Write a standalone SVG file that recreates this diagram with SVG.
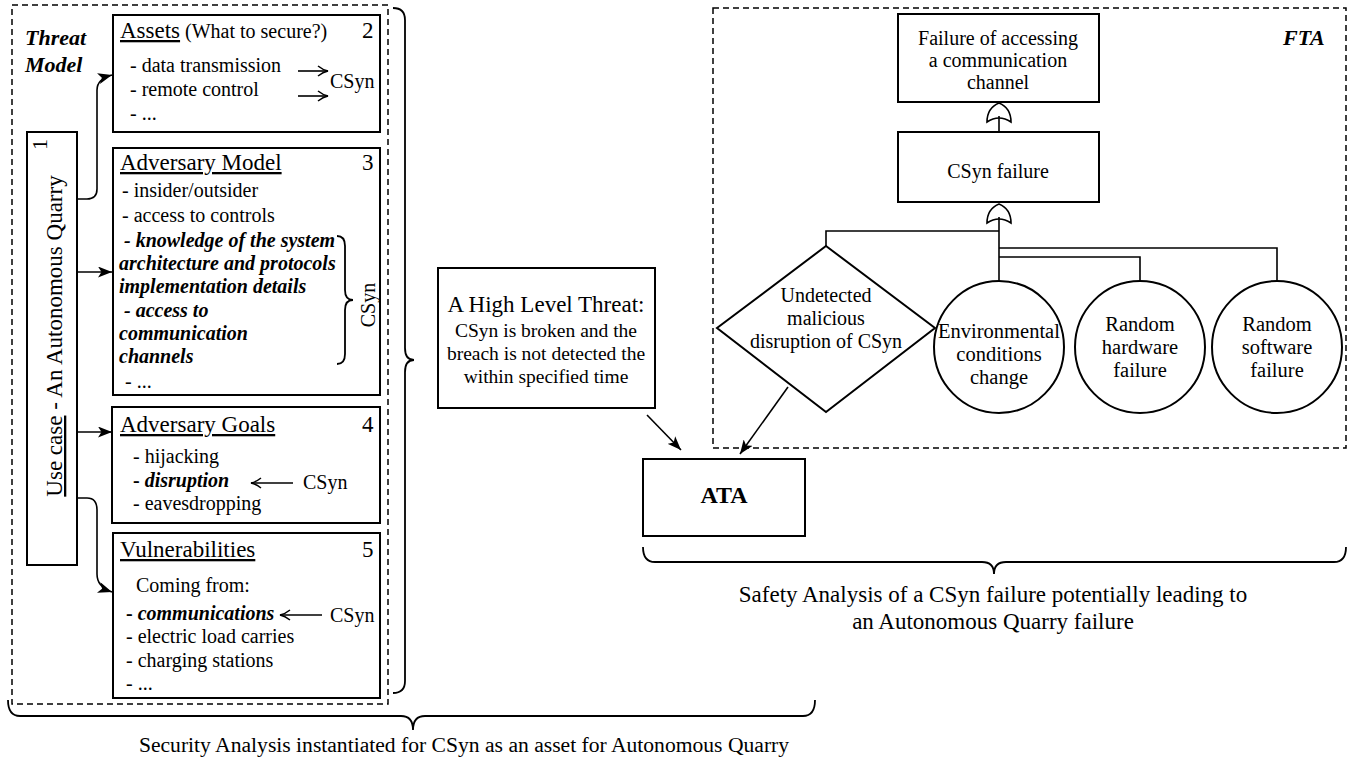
<svg xmlns="http://www.w3.org/2000/svg" width="1359" height="762" viewBox="0 0 1359 762" font-family="'Liberation Serif', 'Times New Roman', serif">
<style>
text{font-family:"Liberation Serif","Times New Roman",serif;fill:#000}
.box{fill:#fff;stroke:#000;stroke-width:2}
.dash{fill:none;stroke:#000;stroke-width:1.5;stroke-dasharray:6 4}
.ln{fill:none;stroke:#000;stroke-width:1.6}
.br{fill:none;stroke:#000;stroke-width:1.8}
.h{font-size:23px}
.it{font-size:20px}
.bi{font-weight:bold;font-style:italic}
.u{text-decoration:underline}
.f{font-size:20px}
.m{text-anchor:middle}
</style>
<defs>
<marker id="ah" viewBox="0 0 14 11" refX="14" refY="5.5" markerWidth="14" markerHeight="11" markerUnits="userSpaceOnUse" orient="auto">
<path d="M0,0 L14,5.5 L0,11 L3.5,5.5 Z" fill="#000"/>
</marker>
<marker id="ch" viewBox="0 0 12 12" refX="11" refY="6" markerWidth="12" markerHeight="12" markerUnits="userSpaceOnUse" orient="auto">
<path d="M1,1 Q6,5 11,6 Q6,7 1,11" fill="none" stroke="#000" stroke-width="1.5"/>
</marker>
</defs>
<rect width="1359" height="762" fill="#fff"/>

<g id="threat-model">
<rect class="dash" x="12" y="5" width="376" height="699"/>
<text x="25" y="45" font-size="22" class="bi">Threat</text>
<text x="25" y="72" font-size="22" class="bi">Model</text>
</g>

<g id="use-case">
<rect class="box" x="27" y="132" width="50" height="433"/>
<text transform="translate(47,150) rotate(-90)" font-size="22">1</text>
<text transform="translate(62,336) rotate(-90)" class="m" font-size="23"><tspan class="u">Use case</tspan> - An Autonomous Quarry</text>
</g>

<g id="assets">
<rect class="box" x="113" y="15" width="267" height="117"/>
<text x="120" y="38" class="h"><tspan class="u">Assets</tspan><tspan font-size="20"> (What to secure?)</tspan></text>
<text x="362" y="38" class="h">2</text>
<text x="130" y="72" class="it">- data transmission</text>
<text x="130" y="96" class="it">- remote control</text>
<text x="130" y="120" class="it">- ...</text>
<line class="ln" x1="298" y1="71" x2="328" y2="71" marker-end="url(#ch)"/>
<line class="ln" x1="298" y1="96" x2="328" y2="96" marker-end="url(#ch)"/>
<text x="330" y="88" class="it">CSyn</text>
</g>

<g id="adversary-model">
<rect class="box" x="113" y="148" width="267" height="247"/>
<text x="120" y="170" class="h"><tspan class="u">Adversary Model</tspan></text>
<text x="362" y="170" class="h">3</text>
<text x="122" y="197" class="it">- insider/outsider</text>
<text x="122" y="222" class="it">- access to controls</text>
<text x="124" y="247" class="it bi"> - knowledge of the system</text>
<text x="119" y="270" class="it bi">architecture and protocols</text>
<text x="119" y="293" class="it bi">implementation details</text>
<text x="124" y="317" class="it bi"> - access to</text>
<text x="119" y="340" class="it bi">communication</text>
<text x="119" y="363" class="it bi">channels</text>
<text x="125" y="388" class="it">- ...</text>
<path class="br" d="M337,236 Q345,236 345,246 L345,290 Q345,300 353,300 Q345,300 345,310 L345,354 Q345,364 337,364"/>
<text transform="translate(375,305) rotate(-90)" class="m it">CSyn</text>
</g>

<g id="adversary-goals">
<rect class="box" x="112" y="407" width="268" height="116"/>
<text x="120" y="432" class="h"><tspan class="u">Adversary Goals</tspan></text>
<text x="362" y="432" class="h">4</text>
<text x="133" y="463" class="it">- hijacking</text>
<text x="133" y="487" class="it"><tspan font-weight="bold">- </tspan><tspan class="bi">disruption</tspan></text>
<text x="133" y="510" class="it">- eavesdropping</text>
<line class="ln" x1="293" y1="483" x2="251" y2="483" marker-end="url(#ch)"/>
<text x="303" y="489" class="it">CSyn</text>
</g>

<g id="vulnerabilities">
<rect class="box" x="113" y="533" width="267" height="165"/>
<text x="120" y="557" class="h"><tspan class="u">Vulnerabilities</tspan></text>
<text x="362" y="557" class="h">5</text>
<text x="136" y="592" class="it">Coming from:</text>
<text x="126" y="620" class="it"><tspan font-weight="bold">- </tspan><tspan class="bi">communications</tspan></text>
<line class="ln" x1="322" y1="615" x2="280" y2="615" marker-end="url(#ch)"/>
<text x="330" y="622" class="it">CSyn</text>
<text x="126" y="643" class="it">- electric load carries</text>
<text x="126" y="667" class="it">- charging stations</text>
<text x="126" y="690" class="it">- ...</text>
</g>

<g id="high-level-threat">
<rect class="box" x="438" y="268" width="217" height="140"/>
<text x="546" y="312" class="m" font-size="23">A High Level Threat:</text>
<text x="546" y="337" class="m" font-size="19.5">CSyn is broken and the</text>
<text x="546" y="360" class="m" font-size="19.5">breach is not detected the</text>
<text x="546" y="383" class="m" font-size="19.5">within specified time</text>
</g>

<g id="ata">
<rect class="box" x="643" y="459" width="162" height="77"/>
<text x="724" y="503" class="m" font-size="24" font-weight="bold">ATA</text>
</g>

<g id="fta">
<rect class="dash" x="713" y="8" width="633" height="440"/>
<text x="1283" y="45" font-size="22" class="bi">FTA</text>
</g>

<g id="top-event">
<rect class="box" x="898" y="14" width="201" height="88"/>
<text x="998" y="45" class="m f">Failure of accessing</text>
<text x="998" y="67" class="m f">a communication</text>
<text x="998" y="89" class="m f">channel</text>
</g>

<g id="csyn-failure">
<rect class="box" x="898" y="132" width="201" height="70"/>
<text x="998" y="178" class="m f">CSyn failure</text>
</g>

<g id="gate-1">
<path class="ln" d="M987,122 Q999,114 1011,122 Q1011,108 999,103 Q987,108 987,122 Z"/>
</g>
<g id="gate-2">
<path class="ln" d="M987,223 Q999,215 1011,223 Q1011,209 999,204 Q987,209 987,223 Z"/>
</g>

<g id="undetected-disruption">
<polygon class="box" points="826,246 935,328 826,412 717,328" stroke-width="1.6"/>
<text x="826" y="302" class="m f">Undetected</text>
<text x="826" y="325" class="m f">malicious</text>
<text x="826" y="348" class="m f">disruption of CSyn</text>
</g>

<g id="environmental">
<ellipse class="box" cx="999" cy="347" rx="65" ry="66" stroke-width="1.6"/>
<text x="999" y="338" class="m" font-size="20.5">Environmental</text>
<text x="999" y="361" class="m" font-size="20.5">conditions</text>
<text x="999" y="384" class="m" font-size="20.5">change</text>
</g>

<g id="random-hardware">
<ellipse class="box" cx="1140" cy="347" rx="65" ry="66" stroke-width="1.6"/>
<text x="1140" y="331" class="m" font-size="20.5">Random</text>
<text x="1140" y="354" class="m" font-size="20.5">hardware</text>
<text x="1140" y="377" class="m" font-size="20.5">failure</text>
</g>

<g id="random-software">
<ellipse class="box" cx="1277" cy="347" rx="65" ry="66" stroke-width="1.6"/>
<text x="1277" y="331" class="m" font-size="20.5">Random</text>
<text x="1277" y="354" class="m" font-size="20.5">software</text>
<text x="1277" y="377" class="m" font-size="20.5">failure</text>
</g>

<g id="connectors">
<path class="ln" d="M77,199 L87,199 Q97,199 97,189 L97,90 Q97,79 112,75" marker-end="url(#ah)"/>
<line class="ln" x1="77" y1="272" x2="112" y2="272" marker-end="url(#ah)"/>
<line class="ln" x1="77" y1="432" x2="112" y2="432" marker-end="url(#ah)"/>
<path class="ln" d="M77,498 L87,498 Q97,498 97,510 L97,574 Q97,587 112,592" marker-end="url(#ah)"/>
<line class="ln" x1="647" y1="415" x2="681" y2="450" marker-end="url(#ah)"/>
<line class="ln" x1="788" y1="387" x2="740" y2="454" marker-end="url(#ah)"/>
<line class="ln" x1="999" y1="116" x2="999" y2="132"/>
<path class="ln" d="M999,217 L999,281"/>
<path class="ln" d="M999,231 L826,231 L826,246"/>
<path class="ln" d="M999,248 L1277,248 L1277,281"/>
<path class="ln" d="M999,257 L1140,257 L1140,281"/>
</g>

<g id="braces">
<path class="br" d="M393,8 Q405,8 405,20 L405,348 Q405,360 414,360 Q405,360 405,372 L405,681 Q405,693 393,693"/>
<path class="br" d="M8,700 Q8,716 20,716 L401,716 Q413,716 413,730 Q413,716 425,716 L803,716 Q815,716 815,700"/>
<path class="br" d="M643,547 Q643,562 655,562 L982,562 Q994,562 994,574 Q994,562 1006,562 L1334,562 Q1346,562 1346,547"/>
</g>

<g id="captions">
<text x="993" y="602" class="m" font-size="23">Safety Analysis of a CSyn failure potentially leading to</text>
<text x="993" y="629" class="m" font-size="23">an Autonomous Quarry failure</text>
<text x="464" y="752" class="m" font-size="21.6">Security Analysis instantiated for CSyn as an asset for Autonomous Quarry</text>
</g>
</svg>
